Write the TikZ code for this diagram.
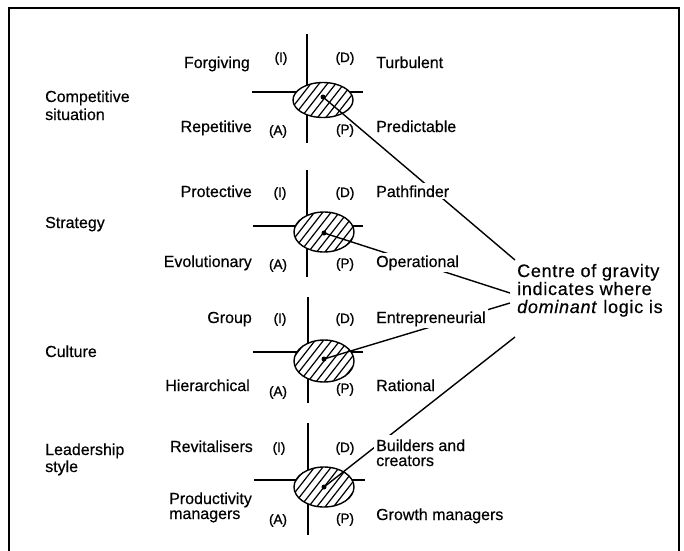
\documentclass[tikz,border=0pt]{standalone}
\usepackage{fontspec}
\setmainfont{Liberation Sans}[FakeBold=0.4]
\usetikzlibrary{shapes.geometric}
\newcommand{\hatchoval}[3]{%
  \begin{scope}
    \clip (#1.center) ellipse [x radius=#2, y radius=#3];
    \foreach \k in {-6,...,6} {
      \draw[line width=1.2pt, shift={(#1.center)}] (\k*8.3-24.6, 31.5) -- (\k*8.3+24.6, -31.5);
    }
  \end{scope}
  \draw[line width=1.4pt] (#1.center) ellipse [x radius=#2, y radius=#3];
}
\begin{document}
\begin{tikzpicture}[x=1pt,y=-1pt,
  lbl/.style={inner sep=0pt, font=\fontsize{16}{18}\selectfont},
  lft/.style={lbl, anchor=base east},
  rgt/.style={lbl, anchor=base west},
  sidelbl/.style={lbl, anchor=base west},
  quad/.style={inner sep=0pt, anchor=base, font=\fontsize{13.5}{15}\selectfont\addfontfeatures{FakeBold=1.4}},
  mask/.style={fill=white, inner sep=2pt},
  cogtxt/.style={inner sep=0pt, anchor=base west, font=\fontsize{18}{19}\selectfont\addfontfeatures{LetterSpace=4}},
  axisline/.style={line width=1.6pt},
  oval/.style={ellipse, fill=white, inner sep=0pt, minimum width=60pt},
  cgdot/.style={circle, fill=black, inner sep=0pt, minimum size=5pt},
  leader/.style={line width=1.4pt}
]
\useasboundingbox (0,0) rectangle (684,550);
\clip (0,0) rectangle (684,550);
% frame
\draw[line width=2.6pt] (9,560) -- (9,8) -- (679,8) -- (679,560);

% axes
\draw[axisline] (307,34) -- (307,143);  \draw[axisline] (252,92) -- (363,92);
\draw[axisline] (307,170) -- (307,277); \draw[axisline] (253,226) -- (363,226);
\draw[axisline] (308,297) -- (308,403); \draw[axisline] (253,352) -- (363,352);
\draw[axisline] (308,423) -- (308,535); \draw[axisline] (254,480) -- (365,480);

% ellipses
\node[oval, minimum height=35pt] (o1) at (323,100) {};
\node[oval, minimum height=40pt] (o2) at (324,232) {};
\node[oval, minimum height=42pt] (o3) at (324,361) {};
\node[oval, minimum height=40pt] (o4) at (324,487) {};
\hatchoval{o1}{30}{17.5}
\hatchoval{o2}{30}{20}
\hatchoval{o3}{30}{21}
\hatchoval{o4}{30}{20}
\node[cgdot] (d1) at (323,97) {};
\node[cgdot] (d2) at (324,233) {};
\node[cgdot] (d3) at (324,359) {};
\node[cgdot] (d4) at (324,487) {};

% leader end points
\coordinate (e1) at (515,260);
\coordinate (e2) at (510,293);
\coordinate (e3) at (510,303);
\coordinate (e4) at (515,337);
\draw[leader] (d1.center) -- (e1);
\draw[leader] (d2.center) -- (e2);
\draw[leader] (d3.center) -- (e3);
\draw[leader] (d4.center) -- (e4);

% side labels
\node[sidelbl] (cs1) at (45,102) {Competitive};
\node[sidelbl] (cs2) at (45,120) {situation};
\node[sidelbl] (st) at (45,228) {Strategy};
\node[sidelbl] (cu) at (45,357) {Culture};
\node[sidelbl] (ls1) at (45,455) {Leadership};
\node[sidelbl] (ls2) at (45,472) {style};

% cross 1
\node[lft] (forg) at (250,68) {Forgiving};
\node[quad] (i1) at (281,62) {(I)};
\node[quad] (dd1) at (345,62) {(D)};
\node[rgt] (turb) at (376,68) {Turbulent};
\node[lft] (rep) at (252,132) {Repetitive};
\node[quad] (a1) at (278,135) {(A)};
\node[quad] (p1) at (345,134) {(P)};
\node[rgt] (pred) at (376,132) {Predictable};

% cross 2
\node[lft] (prot) at (252,197) {Protective};
\node[quad] (i2) at (280,197) {(I)};
\node[quad] (dd2) at (345,197) {(D)};
\node[rgt, mask] (path) at (374,197) {Pathfinder};
\node[lft] (evo) at (252,267) {Evolutionary};
\node[quad] (a2) at (278,269) {(A)};
\node[quad] (p2) at (345,268) {(P)};
\node[rgt, mask] (oper) at (374,267) {Operational};

% cross 3
\node[lft] (grp) at (252,323) {Group};
\node[quad] (i3) at (280,323) {(I)};
\node[quad] (dd3) at (345,323) {(D)};
\node[rgt, mask] (entr) at (374,323) {Entrepreneurial};
\node[lft] (hier) at (250,391) {Hierarchical};
\node[quad] (a3) at (278,396) {(A)};
\node[quad] (p3) at (345,393) {(P)};
\node[rgt] (rat) at (376,391) {Rational};

% cross 4
\node[lft] (revi) at (253,452) {Revitalisers};
\node[quad] (i4) at (279,452) {(I)};
\node[quad] (dd4) at (345,452) {(D)};
\node[rgt, mask, inner ysep=4pt] (bld1) at (374,451) {Builders and};
\node[rgt, mask] (bld2) at (374,466) {creators};
\node[sidelbl] (prod1) at (169,504) {Productivity};
\node[sidelbl] (prod2) at (169,519) {managers};
\node[quad] (a4) at (278,524) {(A)};
\node[quad] (p4) at (345,523) {(P)};
\node[rgt] (grow) at (376,520) {Growth managers};

% centre of gravity text
\node[cogtxt] (cog1) at (517,277) {Centre of gravity};
\node[cogtxt] (cog2) at (517,295) {indicates where};
\node[cogtxt] (cog3) at (517,313) {\textit{dominant} logic is};
\end{tikzpicture}
\end{document}
